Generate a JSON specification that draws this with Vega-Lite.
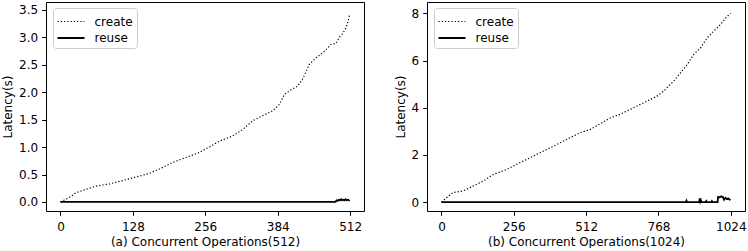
{
  "$schema": "https://vega.github.io/schema/vega-lite/v6.json",
  "background": "white",
  "padding": {"left": 1, "top": 1, "right": 2, "bottom": 0},
  "spacing": 63,
  "bounds": "flush",
  "config": {
    "font": "DejaVu Sans",
    "view": {"stroke": "black", "strokeWidth": 1},
    "axis": {
      "domain": false, "grid": false, "ticks": true,
      "tickColor": "black", "tickSize": 4.3, "tickWidth": 1,
      "labelFont": "DejaVu Sans", "labelFontSize": 12, "labelColor": "black", "labelPadding": 4,
      "titleFont": "DejaVu Sans", "titleFontSize": 12, "titleFontWeight": "normal", "titleColor": "black", "titlePadding": 4
    },
    "axisX": {"labelPadding": 6, "titlePadding": 4},
    "legend": {
      "title": null, "orient": "none", "legendX": 7, "legendY": 6,
      "labelFont": "DejaVu Sans", "labelFontSize": 12, "labelColor": "black",
      "strokeColor": "#cccccc", "fillColor": "white", "cornerRadius": 3, "padding": 3.5,
      "symbolType": "M-1,0H2", "symbolSize": 324, "symbolStrokeColor": "black", "rowPadding": 0.5, "labelOffset": 18
    }
  },
  "datasets": {
    "a": [
      {"x": 0, "latency": 0, "series": "create"},
      {"x": 10, "latency": 0.05, "series": "create"},
      {"x": 18, "latency": 0.1, "series": "create"},
      {"x": 28, "latency": 0.17, "series": "create"},
      {"x": 45, "latency": 0.23, "series": "create"},
      {"x": 63, "latency": 0.29, "series": "create"},
      {"x": 87, "latency": 0.33, "series": "create"},
      {"x": 110, "latency": 0.39, "series": "create"},
      {"x": 128, "latency": 0.44, "series": "create"},
      {"x": 157, "latency": 0.52, "series": "create"},
      {"x": 181, "latency": 0.63, "series": "create"},
      {"x": 198, "latency": 0.72, "series": "create"},
      {"x": 222, "latency": 0.81, "series": "create"},
      {"x": 245, "latency": 0.9, "series": "create"},
      {"x": 263, "latency": 1.0, "series": "create"},
      {"x": 281, "latency": 1.11, "series": "create"},
      {"x": 304, "latency": 1.2, "series": "create"},
      {"x": 322, "latency": 1.32, "series": "create"},
      {"x": 340, "latency": 1.48, "series": "create"},
      {"x": 357, "latency": 1.57, "series": "create"},
      {"x": 375, "latency": 1.66, "series": "create"},
      {"x": 387, "latency": 1.78, "series": "create"},
      {"x": 396, "latency": 1.96, "series": "create"},
      {"x": 408, "latency": 2.05, "series": "create"},
      {"x": 419, "latency": 2.11, "series": "create"},
      {"x": 428, "latency": 2.24, "series": "create"},
      {"x": 440, "latency": 2.51, "series": "create"},
      {"x": 452, "latency": 2.63, "series": "create"},
      {"x": 467, "latency": 2.75, "series": "create"},
      {"x": 478, "latency": 2.87, "series": "create"},
      {"x": 487, "latency": 2.89, "series": "create"},
      {"x": 493, "latency": 3.0, "series": "create"},
      {"x": 499, "latency": 3.07, "series": "create"},
      {"x": 505, "latency": 3.18, "series": "create"},
      {"x": 509, "latency": 3.32, "series": "create"},
      {"x": 511, "latency": 3.42, "series": "create"},
      {"x": 0, "latency": 0, "series": "reuse"},
      {"x": 486, "latency": 0, "series": "reuse"},
      {"x": 488, "latency": 0.03, "series": "reuse"},
      {"x": 490, "latency": 0.02, "series": "reuse"},
      {"x": 492, "latency": 0.04, "series": "reuse"},
      {"x": 494, "latency": 0.03, "series": "reuse"},
      {"x": 496, "latency": 0.05, "series": "reuse"},
      {"x": 498, "latency": 0.03, "series": "reuse"},
      {"x": 500, "latency": 0.04, "series": "reuse"},
      {"x": 502, "latency": 0.03, "series": "reuse"},
      {"x": 504, "latency": 0.05, "series": "reuse"},
      {"x": 506, "latency": 0.03, "series": "reuse"},
      {"x": 508, "latency": 0.04, "series": "reuse"},
      {"x": 510, "latency": 0.03, "series": "reuse"},
      {"x": 511, "latency": 0.04, "series": "reuse"}
    ],
    "b": [
      {"x": 0, "latency": 0, "series": "create"},
      {"x": 18, "latency": 0.18, "series": "create"},
      {"x": 41, "latency": 0.4, "series": "create"},
      {"x": 77, "latency": 0.47, "series": "create"},
      {"x": 112, "latency": 0.68, "series": "create"},
      {"x": 148, "latency": 0.89, "series": "create"},
      {"x": 183, "latency": 1.17, "series": "create"},
      {"x": 231, "latency": 1.38, "series": "create"},
      {"x": 266, "latency": 1.6, "series": "create"},
      {"x": 302, "latency": 1.81, "series": "create"},
      {"x": 349, "latency": 2.09, "series": "create"},
      {"x": 397, "latency": 2.37, "series": "create"},
      {"x": 444, "latency": 2.66, "series": "create"},
      {"x": 491, "latency": 2.94, "series": "create"},
      {"x": 527, "latency": 3.08, "series": "create"},
      {"x": 562, "latency": 3.32, "series": "create"},
      {"x": 598, "latency": 3.57, "series": "create"},
      {"x": 633, "latency": 3.72, "series": "create"},
      {"x": 680, "latency": 4.0, "series": "create"},
      {"x": 728, "latency": 4.28, "series": "create"},
      {"x": 763, "latency": 4.49, "series": "create"},
      {"x": 787, "latency": 4.71, "series": "create"},
      {"x": 822, "latency": 5.13, "series": "create"},
      {"x": 846, "latency": 5.48, "series": "create"},
      {"x": 870, "latency": 5.84, "series": "create"},
      {"x": 893, "latency": 6.26, "series": "create"},
      {"x": 917, "latency": 6.54, "series": "create"},
      {"x": 941, "latency": 6.97, "series": "create"},
      {"x": 964, "latency": 7.25, "series": "create"},
      {"x": 988, "latency": 7.53, "series": "create"},
      {"x": 1006, "latency": 7.81, "series": "create"},
      {"x": 1023, "latency": 8.0, "series": "create"},
      {"x": 0, "latency": 0, "series": "reuse"},
      {"x": 865, "latency": 0, "series": "reuse"},
      {"x": 867, "latency": 0.06, "series": "reuse"},
      {"x": 869, "latency": 0, "series": "reuse"},
      {"x": 912, "latency": 0, "series": "reuse"},
      {"x": 914, "latency": 0.15, "series": "reuse"},
      {"x": 916, "latency": 0.02, "series": "reuse"},
      {"x": 918, "latency": 0.08, "series": "reuse"},
      {"x": 920, "latency": 0, "series": "reuse"},
      {"x": 935, "latency": 0, "series": "reuse"},
      {"x": 937, "latency": 0.04, "series": "reuse"},
      {"x": 939, "latency": 0, "series": "reuse"},
      {"x": 955, "latency": 0, "series": "reuse"},
      {"x": 957, "latency": 0.04, "series": "reuse"},
      {"x": 959, "latency": 0, "series": "reuse"},
      {"x": 977, "latency": 0, "series": "reuse"},
      {"x": 979, "latency": 0.22, "series": "reuse"},
      {"x": 985, "latency": 0.2, "series": "reuse"},
      {"x": 990, "latency": 0.24, "series": "reuse"},
      {"x": 996, "latency": 0.21, "series": "reuse"},
      {"x": 1000, "latency": 0.1, "series": "reuse"},
      {"x": 1005, "latency": 0.18, "series": "reuse"},
      {"x": 1010, "latency": 0.12, "series": "reuse"},
      {"x": 1015, "latency": 0.15, "series": "reuse"},
      {"x": 1020, "latency": 0.1, "series": "reuse"},
      {"x": 1023, "latency": 0.12, "series": "reuse"}
    ]
  },
  "hconcat": [
    {
      "width": 318, "height": 209,
      "data": {"name": "a"},
      "mark": {"type": "line", "color": "black", "strokeCap": "butt"},
      "encoding": {
        "x": {"field": "x", "type": "quantitative", "title": "(a) Concurrent Operations(512)",
              "scale": {"domain": [-25.55, 536.55], "nice": false, "zero": false},
              "axis": {"values": [0, 128, 256, 384, 512], "format": "d"}},
        "y": {"field": "latency", "type": "quantitative", "title": "Latency(s)",
              "scale": {"domain": [-0.165, 3.645], "nice": false, "zero": false},
              "axis": {"values": [0, 0.5, 1, 1.5, 2, 2.5, 3, 3.5], "format": ".1f"}},
        "strokeDash": {"field": "series", "type": "nominal",
              "scale": {"domain": ["create", "reuse"], "range": [[1.23, 2.03], [1, 0]]}},
        "strokeWidth": {"field": "series", "type": "nominal",
              "scale": {"domain": ["create", "reuse"], "range": [1.2, 1.8]}}
      }
    },
    {
      "width": 318, "height": 209,
      "data": {"name": "b"},
      "mark": {"type": "line", "color": "black", "strokeCap": "butt"},
      "encoding": {
        "x": {"field": "x", "type": "quantitative", "title": "(b) Concurrent Operations(1024)",
              "scale": {"domain": [-51.15, 1074.15], "nice": false, "zero": false},
              "axis": {"values": [0, 256, 512, 768, 1024], "format": "d"}},
        "y": {"field": "latency", "type": "quantitative", "title": "Latency(s)",
              "scale": {"domain": [-0.38, 8.48], "nice": false, "zero": false},
              "axis": {"values": [0, 2, 4, 6, 8], "format": "d"}},
        "strokeDash": {"field": "series", "type": "nominal",
              "scale": {"domain": ["create", "reuse"], "range": [[1.23, 2.03], [1, 0]]}},
        "strokeWidth": {"field": "series", "type": "nominal",
              "scale": {"domain": ["create", "reuse"], "range": [1.2, 1.8]}}
      }
    }
  ],
  "resolve": {"scale": {"x": "independent", "y": "independent", "strokeDash": "independent", "strokeWidth": "independent"},
              "legend": {"strokeDash": "independent", "strokeWidth": "independent"}}
}
